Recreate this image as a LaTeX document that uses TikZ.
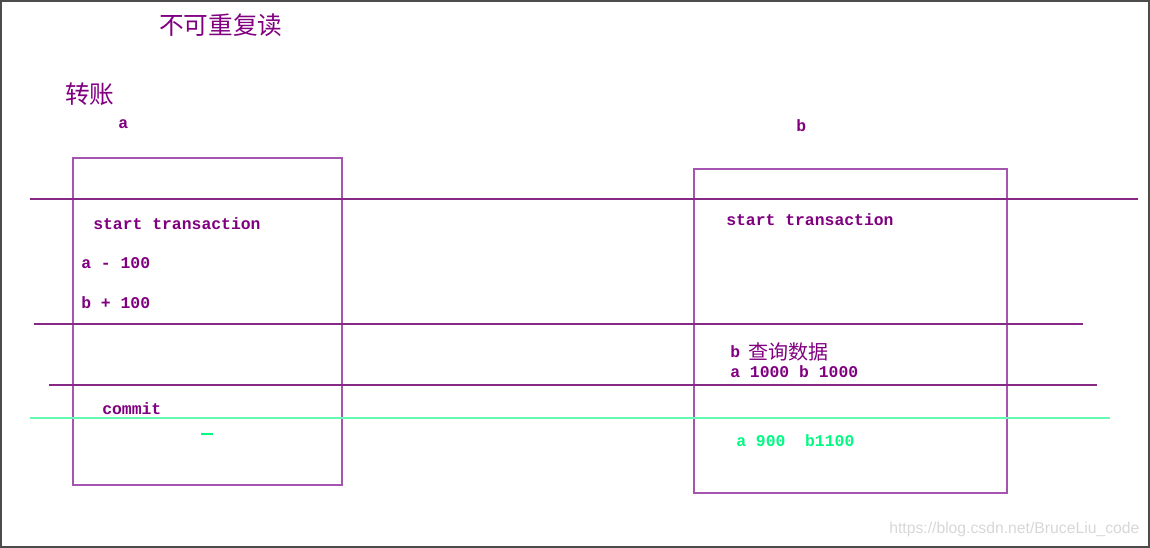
\documentclass[tikz,border=0pt]{standalone}
\usepackage{fontspec}
\setmainfont{Liberation Sans}
\setmonofont{Liberation Mono}
\newfontfamily\cjk{Noto Sans CJK SC}
\definecolor{txtpurple}{RGB}{128,0,128}
\definecolor{boxpurple}{RGB}{165,85,175}
\definecolor{linepurple}{RGB}{135,40,135}
\definecolor{mint}{RGB}{100,250,175}
\definecolor{txtgreen}{RGB}{0,250,130}
\definecolor{wmgray}{RGB}{215,215,215}
\tikzset{
  code/.style={anchor=west, inner sep=0pt, text=txtpurple, font=\ttfamily\bfseries\fontsize{12.3}{14}\selectfont},
  gcode/.style={code, text=txtgreen},
  cjktext/.style={anchor=west, inner sep=0pt, text=txtpurple, font=\cjk\fontsize{#1}{#1}\selectfont},
  tbox/.style={draw=boxpurple, line width=1.2pt},
  hline/.style={draw=linepurple, line width=1pt},
  gline/.style={draw=mint, line width=1.3pt}
}
\begin{document}
\begin{tikzpicture}[x=0.75pt,y=-0.75pt]
\useasboundingbox (0,0) rectangle (1150,548);
\draw[draw=black!70, line width=1.5pt] (1,1) rectangle (1149,547);
% titles
\node[cjktext=18.5] (title) at (159,25) {不可重复读};
\node[cjktext=18.5] (zz) at (65,94) {转账};
\node[code] (la) at (118,124) {a};
\node[code] (lb) at (796,126) {b};
% boxes
\draw[tbox] (73,158) rectangle (342,485);
\draw[tbox] (694,169) rectangle (1007,493);
% horizontal lines
\draw[hline] (30,199) -- (1138,199);
\draw[hline] (34,324) -- (1083,324);
\draw[hline] (49,385) -- (1097,385);
\draw[gline] (30,418) -- (1110,418);
% left box texts
\node[code] (lst) at (93,224) {start transaction};
\node[code] (lam) at (81,263) {a - 100};
\node[code] (lbp) at (81,303) {b + 100};
\node[code] (lcm) at (102,409) {commit};
\draw[draw=txtgreen, line width=1pt] (201,434) -- (213,434);
% right box texts
\node[code] (rst) at (726,220) {start transaction};
\node[code] (rb) at (730,352) {b};
\node[cjktext=15] (rq) at (748,352) {查询数据};
\node[code] (rab) at (730,372) {a 1000 b 1000};
\node[gcode] (rg) at (736,441) {a 900\ \ b1100};
% watermark
\node[anchor=west, inner sep=0pt, text=wmgray, font=\fontsize{11.8}{13}\selectfont] (wm) at (889,529) {https://blog.csdn.net/BruceLiu\_code};
\end{tikzpicture}
\end{document}
